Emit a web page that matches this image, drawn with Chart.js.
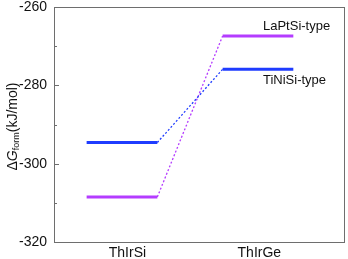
<!DOCTYPE html>
<html>
<head>
<meta charset="utf-8">
<script src="https://cdn.jsdelivr.net/npm/chart.js@4"></script>
<style>
  html, body { margin: 0; padding: 0; background: #fff; }
  .box { width: 348px; height: 259px; }
</style>
</head>
<body>
<div class="box"><canvas id="c"></canvas></div>
<script>
// values
const compounds = ['ThIrSi', 'ThIrGe'];
const compoundX = [1, 2];          // level centres on the hidden x scale
const labelX = [1.04, 2.01];       // where the compound names sit
const seriesNames = ['TiNiSi-type', 'LaPtSi-type'];
const tiNiSi = [-294.6, -275.9];
const laPtSi = [-308.5, -267.4];
const seriesColors = ['#1f3cff', '#b43cff'];
const yMajor = [-320, -300, -280, -260];
const yMinor = [-310, -290, -270];

const halfW = 0.26;
const allSeries = [tiNiSi, laPtSi];

function levelData(vals) {
  const pts = [];
  vals.forEach((v, i) => {
    pts.push({ x: compoundX[i] - halfW, y: v });
    pts.push({ x: compoundX[i] + halfW, y: v });
    if (i < vals.length - 1) pts.push({ x: (compoundX[i] + compoundX[i + 1]) / 2, y: null });
  });
  return pts;
}
function linkData(vals) {
  return [
    { x: compoundX[0] + halfW, y: vals[0] },
    { x: compoundX[1] - halfW, y: vals[1] }
  ];
}

const datasets = [];
allSeries.forEach((vals, k) => {
  datasets.push({
    label: seriesNames[k] + ' link',
    data: linkData(vals),
    borderColor: seriesColors[k],
    borderWidth: 1.3,
    borderDash: [2, 2],
    pointRadius: 0,
    order: 2
  });
  datasets.push({
    label: seriesNames[k],
    data: levelData(vals),
    borderColor: seriesColors[k],
    borderWidth: 3,
    pointRadius: 0,
    spanGaps: false,
    order: 1
  });
});

const frame = {
  id: 'frame',
  afterDraw(chart) {
    const { ctx, chartArea: a, scales } = chart;
    const y = scales.y, x = scales.x;
    ctx.save();
    ctx.strokeStyle = '#6e6e6e';
    ctx.lineWidth = 1;
    ctx.strokeRect(a.left + 0.5, a.top + 0.5, a.right - a.left - 1, a.bottom - a.top);
    yMajor.forEach(v => {
      const py = Math.round(y.getPixelForValue(v)) + 0.5;
      ctx.beginPath(); ctx.moveTo(a.left, py); ctx.lineTo(a.left + 5, py); ctx.stroke();
    });
    yMinor.forEach(v => {
      const py = Math.round(y.getPixelForValue(v)) + 0.5;
      ctx.beginPath(); ctx.moveTo(a.left, py); ctx.lineTo(a.left + 3, py); ctx.stroke();
    });

    // series labels at the right-hand levels
    ctx.fillStyle = '#111';
    ctx.font = '13px "Liberation Sans", Arial, sans-serif';
    ctx.textAlign = 'left';
    ctx.textBaseline = 'middle';
    const tx = x.getPixelForValue(compoundX[1]) + 5;
    ctx.fillText(seriesNames[1], tx, y.getPixelForValue(laPtSi[1]) - 10);
    ctx.fillText(seriesNames[0], tx, y.getPixelForValue(tiNiSi[1]) + 11);

    // y axis title: ΔG_form (kJ/mol)
    ctx.translate(13, (a.top + a.bottom) / 2 + 2);
    ctx.rotate(-Math.PI / 2);
    const big = '14px "Liberation Sans", Arial, sans-serif';
    const it = 'italic 14px "Liberation Sans", Arial, sans-serif';
    const sub = '9px "Liberation Sans", Arial, sans-serif';
    const parts = [
      { t: '\u0394', f: big, dy: 0 },
      { t: 'G', f: it, dy: 0 },
      { t: 'form', f: sub, dy: 4 },
      { t: '(kJ/mol)', f: big, dy: 0 }
    ];
    let w = 0;
    parts.forEach(p => { ctx.font = p.f; p.w = ctx.measureText(p.t).width; w += p.w; });
    let cx = -w / 2;
    parts.forEach(p => {
      ctx.font = p.f;
      ctx.fillText(p.t, cx, p.dy);
      cx += p.w;
    });
    ctx.restore();
  }
};

new Chart(document.getElementById('c').getContext('2d'), {
  type: 'line',
  data: { datasets },
  options: {
    responsive: true,
    maintainAspectRatio: false,
    animation: false,
    layout: { padding: { top: 7, right: 3, left: 0, bottom: 0 } },
    plugins: { legend: { display: false }, tooltip: { enabled: false } },
    scales: {
      x: {
        type: 'linear',
        min: 0.5,
        max: 2.64,
        grid: { display: false, drawTicks: false },
        border: { display: false },
        afterBuildTicks: s => { s.ticks = labelX.map(v => ({ value: v })); },
        afterFit: s => { s.height = 17; s.paddingLeft = 0; s.paddingRight = 0; },
        ticks: {
          padding: 3,
          color: '#111',
          font: { family: '"Liberation Sans", Arial, sans-serif', size: 14 },
          callback: (v, i) => compounds[i]
        }
      },
      y: {
        type: 'linear',
        min: -320,
        max: -260,
        grid: { display: false, drawTicks: false },
        border: { display: false },
        afterBuildTicks: s => { s.ticks = yMajor.map(v => ({ value: v })); },
        afterFit: s => { s.width = 54; s.paddingTop = 0; s.paddingBottom = 0; },
        ticks: {
          padding: 7,
          color: '#111',
          font: { family: '"Liberation Sans", Arial, sans-serif', size: 14 }
        }
      }
    }
  },
  plugins: [frame]
});
</script>
</body>
</html>
